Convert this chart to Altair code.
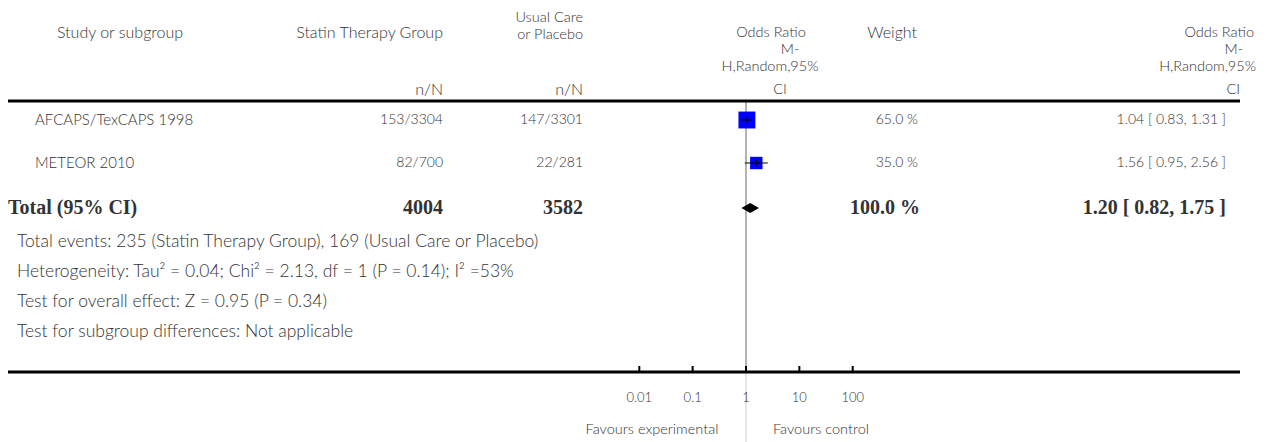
import altair as alt
import pandas as pd

# ---------------- data ----------------
studies = ["AFCAPS/TexCAPS 1998", "METEOR 2010"]
statin_nN = ["153/3304", "82/700"]
usual_nN = ["147/3301", "22/281"]
weights = [65.0, 35.0]
or_est = [1.04, 1.56]
or_lo = [0.83, 0.95]
or_hi = [1.31, 2.56]

total_label = "Total (95% CI)"
total_statin = 4004
total_usual = 3582
total_weight = 100.0
total_est, total_lo, total_hi = 1.20, 0.82, 1.75

footnotes = [
    "Total events: 235 (Statin Therapy Group), 169 (Usual Care or Placebo)",
    "Heterogeneity: Tau\u00b2 = 0.04; Chi\u00b2 = 2.13, df = 1 (P = 0.14); I\u00b2 =53%",
    "Test for overall effect: Z = 0.95 (P = 0.34)",
    "Test for subgroup differences: Not applicable",
]
tick_values = [0.01, 0.1, 1, 10, 100]
tick_labels = ["0.01", "0.1", "1", "10", "100"]
favours = ["Favours experimental", "Favours control"]

# ---------------- layout (page pixels) ----------------
OFF = 8
W, H = 1252, 434
ROW_Y = [120, 163]
TOTAL_Y = 208
FOOT_Y = [242, 272, 302, 332]
TOP_RULE_Y = 101
AXIS_Y = 372
TICKLAB_Y = 398
FAV_Y = 430
FAV_X = [652, 821]
X_STUDY, X_STATIN, X_USUAL, X_WEIGHT, X_OR = 35, 443, 583, 918, 1226
X_TOTAL, X_FOOT = 8, 17
LOG_RANGE = [639.3 - OFF, 852.7 - OFF]

SANS = "Lato"
SERIF = "Liberation Serif"
TXT = "#333333"
FS_HDR1 = 16     # single-line headers
FS_HDR2 = 14.5   # stacked header lines
FS_ROW = 15
FS_NUM = 14
FS_FOOT = 17.5
FS_BOLD = 20


def P(v):
    return v - OFF


xlog = alt.Scale(type="log", domain=[0.01, 100], range=LOG_RANGE)


def ident(field):
    return alt.X(field, scale=None, axis=None)


def identy(field):
    return alt.Y(field, scale=None, axis=None)


def text_layer(rows, align, font=SANS, size=FS_ROW, weight=300):
    df = pd.DataFrame(rows, columns=["t", "x", "y"])
    df["x"] = df["x"] - OFF
    df["y"] = df["y"] - OFF
    return alt.Chart(df).mark_text(
        align=align, baseline="middle", font=font, fontSize=size,
        fontWeight=weight, color=TXT
    ).encode(x=ident("x:Q"), y=identy("y:Q"), text="t:N")


# headers
hdr_single_c = text_layer([("Study or subgroup", 120, 33)], "center", size=FS_HDR1)
hdr_single_r = text_layer([
    ("Statin Therapy Group", X_STATIN, 33), ("n/N", X_STATIN, 90),
    ("n/N", X_USUAL, 90), ("Weight", 917, 33),
], "right", size=FS_HDR1)
hdr_stack_c = text_layer([
    ("Odds Ratio", 771, 33), ("M-", 790, 50), ("H,Random,95%", 770, 67), ("CI", 780, 90),
], "center", size=FS_HDR2)
hdr_stack_r = text_layer([
    ("Usual Care", X_USUAL, 18), ("or Placebo", X_USUAL, 35),
    ("Odds Ratio", 1254, 33), ("M-", 1243, 50), ("H,Random,95%", 1256, 67), ("CI", 1240, 90),
], "right", size=FS_HDR2)

# body
body_left = text_layer([(s, X_STUDY, y) for s, y in zip(studies, ROW_Y)], "left")
foot_left = text_layer([(f, X_FOOT, y) for f, y in zip(footnotes, FOOT_Y)], "left", size=FS_FOOT)
body_right_rows = []
for i, y in enumerate(ROW_Y):
    body_right_rows += [
        (statin_nN[i], X_STATIN, y),
        (usual_nN[i], X_USUAL, y),
        (f"{weights[i]:.1f} %", X_WEIGHT, y),
        (f"{or_est[i]:.2f} [ {or_lo[i]:.2f}, {or_hi[i]:.2f} ]", X_OR, y),
    ]
body_right = text_layer(body_right_rows, "right", size=FS_NUM)

tot_left = text_layer([(total_label, X_TOTAL, TOTAL_Y)], "left", SERIF, FS_BOLD, "bold")
tot_right = text_layer([
    (str(total_statin), X_STATIN, TOTAL_Y),
    (str(total_usual), X_USUAL, TOTAL_Y),
    (f"{total_weight:.1f} %", 920, TOTAL_Y),
    (f"{total_est:.2f} [ {total_lo:.2f}, {total_hi:.2f} ]", X_OR, TOTAL_Y),
], "right", SERIF, FS_BOLD, "bold")

fav = text_layer([(f, x, FAV_Y) for f, x in zip(favours, FAV_X)], "center", size=14.5)

# horizontal rules
hrules = alt.Chart(pd.DataFrame({"y": [P(TOP_RULE_Y), P(AXIS_Y)]})).mark_rule(
    color="black", strokeWidth=3
).encode(x=alt.value(P(7)), x2=alt.value(P(1240)), y=identy("y:Q"))

# null line (upper darker, lower lighter)
null_df = pd.DataFrame({"v": [1, 1], "y": [P(TOP_RULE_Y), P(AXIS_Y)], "y2": [P(AXIS_Y), P(450)],
                        "c": ["#9a9a9a", "#dddddd"]})
null_line = alt.Chart(null_df).mark_rule(strokeWidth=1.5).encode(
    x=alt.X("v:Q", scale=xlog, axis=None), y=identy("y:Q"), y2="y2:Q",
    color=alt.Color("c:N", scale=None, legend=None)
)

# axis ticks and labels
tick_df = pd.DataFrame({"v": tick_values, "lab": tick_labels,
                        "y": [P(AXIS_Y - 6)] * 5, "y2": [P(AXIS_Y)] * 5,
                        "ly": [P(TICKLAB_Y)] * 5})
ticks = alt.Chart(tick_df).mark_rule(color="black", strokeWidth=2).encode(
    x=alt.X("v:Q", scale=xlog, axis=None), y=identy("y:Q"), y2="y2:Q")
tick_text = alt.Chart(tick_df).mark_text(
    align="center", baseline="middle", font=SANS, fontSize=13, fontWeight=300, color=TXT
).encode(x=alt.X("v:Q", scale=xlog, axis=None), y=identy("ly:Q"), text="lab:N")

# study squares + CIs
st_df = pd.DataFrame({"est": or_est, "lo": or_lo, "hi": or_hi, "w": weights,
                      "y": [P(v) for v in ROW_Y]})
st_df["ya"] = st_df["y"] - 3
st_df["yb"] = st_df["y"] + 3
squares = alt.Chart(st_df).mark_square(color="#0000ff", opacity=1, filled=True).encode(
    x=alt.X("est:Q", scale=xlog, axis=None), y=identy("y:Q"),
    size=alt.Size("w:Q", scale=alt.Scale(domain=[0, 100], range=[0, 440]), legend=None))
ci = alt.Chart(st_df).mark_rule(color="black", strokeWidth=1).encode(
    x=alt.X("lo:Q", scale=xlog, axis=None), x2="hi:Q", y=identy("y:Q"))
cross = alt.Chart(st_df).mark_rule(color="black", strokeWidth=1).encode(
    x=alt.X("est:Q", scale=xlog, axis=None), y=identy("ya:Q"), y2="yb:Q")

# pooled diamond
dm_df = pd.DataFrame({"v": [total_lo, total_est, total_hi],
                      "y": [P(TOTAL_Y), P(TOTAL_Y) - 5, P(TOTAL_Y)],
                      "y2": [P(TOTAL_Y), P(TOTAL_Y) + 5, P(TOTAL_Y)]})
diamond = alt.Chart(dm_df).mark_area(color="black", opacity=1).encode(
    x=alt.X("v:Q", scale=xlog, axis=None), y=identy("y:Q"), y2="y2:Q")

chart = alt.layer(
    null_line, hrules, ticks, tick_text, squares, ci, cross, diamond,
    hdr_single_c, hdr_single_r, hdr_stack_c, hdr_stack_r,
    body_left, foot_left, body_right, tot_left, tot_right, fav
).resolve_scale(x="independent", y="independent").properties(
    width=W, height=H, autosize=alt.AutoSizeParams(type="none"), padding=0
).configure_view(stroke=None)

chart.save("out.html", embed_options={"renderer": "svg", "actions": False})
